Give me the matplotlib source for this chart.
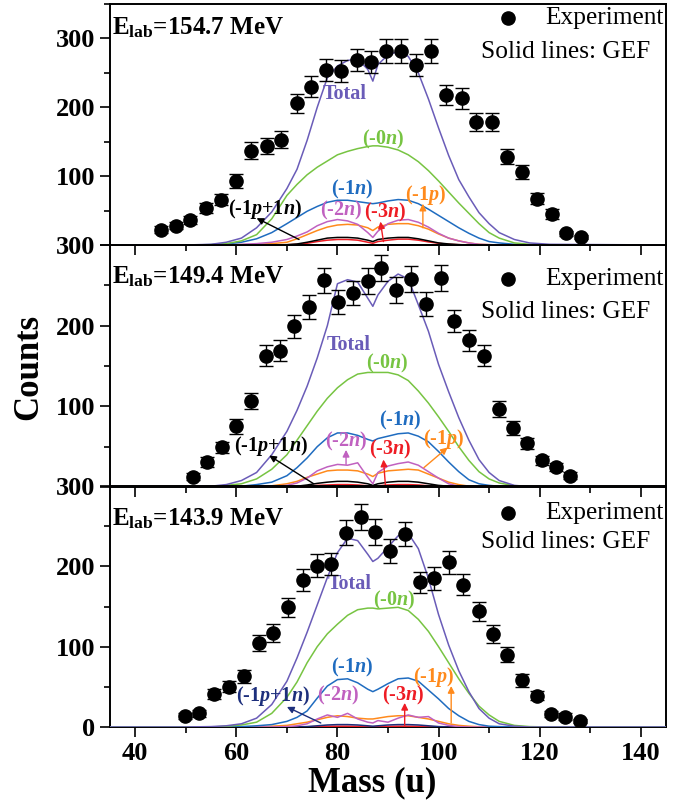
import matplotlib
matplotlib.use('Agg')
import matplotlib.pyplot as plt
from matplotlib.ticker import MultipleLocator

plt.rcParams['font.family'] = ['Liberation Serif', 'DejaVu Serif']
plt.rcParams['font.weight'] = 'bold'
plt.rcParams['mathtext.fontset'] = 'custom'
plt.rcParams['mathtext.rm'] = 'Liberation Serif:bold'
plt.rcParams['mathtext.it'] = 'Liberation Serif:bold:italic'
plt.rcParams['mathtext.bf'] = 'Liberation Serif:bold'

# ---------------- experimental data ----------------
top_m = [45.1, 48.0, 50.9, 54.0, 56.9, 60.0, 62.9, 66.0, 68.9, 71.9, 74.8, 77.8, 80.7, 83.8, 86.7,
         89.7, 92.6, 95.6, 98.5, 101.5, 104.7, 107.5, 110.5, 113.5, 116.5, 119.4, 122.4, 125.3, 128.2]
top_c = [22, 28, 36, 54, 66, 93, 137, 144, 153, 206, 230, 254, 253, 268, 266,
         282, 282, 262, 282, 218, 213, 179, 179, 128, 106, 67, 45, 17, 12]
top_e = [5, 5, 6, 7, 8, 10, 12, 12, 12, 14, 15, 16, 16, 16, 16,
         17, 17, 16, 17, 15, 15, 13, 13, 11, 10, 8, 7, 4, 3]

mid_m = [51.5, 54.2, 57.1, 60.0, 62.8, 65.8, 68.6, 71.5, 74.4, 77.3, 80.2, 83.1, 86.0, 88.7,
         91.6, 94.5, 97.5, 100.4, 103.1, 106.0, 108.9, 111.9, 114.8, 117.5, 120.4, 123.3, 126.0]
mid_c = [13, 31, 49, 75, 107, 163, 169, 199, 223, 256, 229, 240, 255, 271,
         244, 258, 227, 259, 206, 182, 163, 97, 73, 54, 33, 25, 14]
mid_e = [4, 6, 7, 9, 10, 13, 13, 14, 15, 16, 15, 15, 16, 16,
         16, 16, 15, 16, 14, 13, 13, 10, 9, 7, 6, 5, 4]

bot_m = [49.8, 52.7, 55.6, 58.5, 61.5, 64.4, 67.3, 70.2, 73.1, 76.0, 78.8, 81.7, 84.7, 87.5,
         90.4, 93.3, 96.4, 99.1, 102.0, 104.9, 108.0, 110.8, 113.5, 116.5, 119.4, 122.2, 125.1, 128.0]
bot_c = [14, 17, 41, 50, 63, 105, 117, 149, 183, 201, 203, 242, 261, 243,
         219, 240, 180, 185, 205, 177, 144, 116, 90, 58, 39, 16, 13, 7.5]
bot_e = [4, 4, 6, 7, 8, 10, 11, 12, 14, 14, 14, 16, 16, 16,
         15, 15, 13, 14, 14, 13, 12, 11, 9, 8, 6, 4, 4, 3]

# ---------------- GEF curves ----------------
gef_m = [35, 50, 55, 58, 61, 64, 67, 70, 72, 74, 76, 78, 80, 82, 84, 86, 87, 88, 90, 92, 94,
         96, 98, 100, 102, 104, 106, 108, 110, 112, 115, 118, 122, 145]

top_total = [0, 0, 1, 4, 10, 25, 48, 82, 110, 152, 200, 243, 260, 268, 270, 255, 238, 262, 276, 281, 274,
             250, 212, 170, 130, 95, 70, 47, 31, 18, 8, 3, 1, 0]
top_n0 = [0, 0, 0.5, 2, 6, 15, 38, 72, 88, 102, 113, 122, 131, 136, 140, 143, 144, 144, 142, 138, 131,
          121, 108, 93, 77, 61, 46, 31, 18, 10, 3, 1, 0, 0]
top_n1 = [0, 0, 0.5, 1.5, 4, 9, 18, 31, 40, 49, 56, 62, 65, 65, 63, 61, 60, 61, 64, 66, 65,
          60, 52, 43, 34, 25, 17, 10, 5, 3, 1, 0, 0, 0]
top_n2 = [0, 0, 0, 0.5, 1, 2, 4, 8, 13, 19, 28, 34, 37, 35, 30, 18, 11, 20, 31, 36, 37,
          33, 26, 17, 10, 6, 3, 1, 0.5, 0, 0, 0, 0, 0]
top_p1 = [0, 0, 0, 0, 0.5, 1, 2, 4, 9, 15, 21, 26, 29, 30, 29, 25, 21, 26, 30, 31, 31,
          28, 23, 16, 10, 6, 3, 1, 0.5, 0, 0, 0, 0, 0]
top_p1n1 = [0, 0, 0, 0, 0, 0, 0.2, 0.5, 1.5, 4, 7, 10, 11, 11, 10, 7, 5, 8, 10, 11, 11,
            9, 6, 3, 1.5, 0.5, 0, 0, 0, 0, 0, 0, 0, 0]
top_n3 = [0, 0, 0, 0, 0, 0, 0, 0.3, 1, 2.5, 5, 7, 8, 8, 7, 4, 2.5, 5, 7, 8.5, 8.5,
          7, 4.5, 2.5, 1, 0.5, 0, 0, 0, 0, 0, 0, 0, 0]

mid_total = [0, 0, 1, 3, 8, 18, 40, 69, 95, 125, 160, 200, 252, 257, 254, 234, 224, 238, 255, 264, 258,
             226, 193, 152, 118, 86, 58, 34, 18, 8, 2, 0.5, 0, 0]
mid_n0 = [0, 0, 0.5, 2, 4, 10, 22, 40, 58, 76, 94, 110, 123, 133, 140, 142, 142, 142, 142, 139, 132,
          119, 104, 87, 69, 50, 33, 19, 10, 5, 1.5, 0.5, 0, 0]
mid_n1 = [0, 0, 0, 0.5, 1, 3, 6, 14, 24, 36, 50, 61, 67, 67, 64, 59, 57, 60, 63, 66, 67,
          63, 56, 44, 31, 19, 9, 4, 2, 1, 0, 0, 0, 0]
mid_n2 = [0, 0, 0, 0, 0, 0.5, 1, 2, 5, 11, 20, 25, 28, 27, 30, 12, 4, 18, 26, 29, 31,
          27, 19, 11, 4, 1, 0, 0, 0, 0, 0, 0, 0, 0]
mid_p1 = [0, 0, 0, 0, 0, 0.5, 1.5, 4, 7, 12, 16, 20, 21, 21, 20, 16, 13, 17, 20, 21, 22,
          21, 16, 11, 6, 3, 1, 0.5, 0, 0, 0, 0, 0, 0]
mid_p1n1 = [0, 0, 0, 0, 0, 0, 0.2, 0.5, 1, 2.5, 4.5, 6, 7, 7, 6, 4, 2, 4, 6, 7, 7,
            6, 4, 2, 1, 0.5, 0, 0, 0, 0, 0, 0, 0, 0]
mid_n3 = [0, 0, 0, 0, 0, 0, 0, 0, 0.5, 1, 2, 2.5, 3, 3, 2.5, 1.5, 1, 1.5, 2.5, 3, 3,
          2.5, 1.5, 1, 0.5, 0, 0, 0, 0, 0, 0, 0, 0, 0]

bot_total = [0, 0, 0.5, 1.5, 4, 11, 28, 57, 86, 118, 152, 186, 217, 235, 232, 215, 206, 210, 224, 238, 241,
             222, 185, 140, 102, 70, 44, 23, 11, 4, 1, 0, 0, 0]
bot_n0 = [0, 0, 0, 1, 2.5, 6, 17, 37, 56, 80, 100, 116, 128, 139, 146, 148, 148, 147, 148, 149, 145,
          134, 119, 100, 80, 60, 42, 26, 15, 7, 2, 0.5, 0, 0]
bot_n1 = [0, 0, 0, 0, 0.5, 1.5, 3, 7, 12, 20, 36, 51, 59, 60, 55, 47, 44, 47, 54, 60, 61,
          57, 46, 35, 23, 14, 7, 3, 1, 0.5, 0, 0, 0, 0]
bot_n2 = [0, 0, 0, 0, 0, 0, 0, 0.5, 1.5, 4, 10, 15, 12, 17, 10, 6, 5, 8, 6, 11, 15,
          12, 13, 5, 2, 0.5, 0, 0, 0, 0, 0, 0, 0, 0]
bot_p1 = [0, 0, 0, 0, 0, 0.3, 1, 2, 4, 6, 9, 12, 14, 13, 11, 10, 10, 11, 13, 14, 14,
          12, 10, 7, 4, 2, 1, 0.3, 0, 0, 0, 0, 0, 0]
bot_p1n1 = [0, 0, 0, 0, 0, 0, 0, 0, 0.2, 0.5, 1.5, 2.5, 3, 3, 2.5, 1.5, 1, 1.5, 2.5, 3, 3,
            2.5, 1.5, 0.5, 0.2, 0, 0, 0, 0, 0, 0, 0, 0, 0]
bot_n3 = [0, 0, 0, 0, 0, 0, 0, 0, 0, 0.3, 0.6, 0.9, 1, 1, 0.8, 0.5, 0.3, 0.5, 0.8, 1, 1,
          0.8, 0.5, 0.3, 0, 0, 0, 0, 0, 0, 0, 0, 0, 0]

energies = ['154.7', '149.4', '143.9']
ylims = [350, 300, 300]

C_TOT = '#6a5cb8'
C_N0 = '#77c442'
C_N1 = '#1f6cc0'
C_N2 = '#c061c0'
C_N3 = '#ee1c24'
C_P1 = '#ff8a1c'

# label positions (mass, counts) and arrows ((tail), (head)) per panel
labels_top = {'Total': (81.5, 219), 'n0': (89.1, 153), 'n1': (82.9, 81), 'p1': (97.5, 73),
              'n2': (80.7, 50), 'n3': (89.5, 47), 'p1n1': (65.6, 52)}
arrows_top = [((72.4, 8), (64.0, 39), 'k'), ((89.1, 5), (88.5, 34), C_N3), ((96.9, 25), (96.9, 60), C_P1)]
labels_mid = {'Total': (82.2, 176), 'n0': (89.8, 153), 'n1': (92.4, 83), 'p1': (101.1, 60),
              'n2': (81.7, 57), 'n3': (90.5, 46), 'p1n1': (66.9, 51)}
arrows_mid = [((75.3, 4), (66.5, 39), 'k'), ((81.7, 28), (81.7, 46), C_N2), ((89.5, 1), (89.1, 34), C_N3),
              ((97.1, 24), (101.8, 49), C_P1)]
labels_bot = {'Total': (82.4, 178), 'n0': (91.3, 157), 'n1': (82.9, 74), 'p1': (99.1, 62),
              'n2': (80.2, 39), 'n3': (93.1, 39), 'p1n1': (67.3, 39)}
arrows_bot = [((76.7, 5), (70.0, 25), '#1d2f7c'), ((93.3, 1), (93.3, 30), C_N3), ((102.5, 5), (102.5, 51), C_P1)]

fig = plt.figure(figsize=(6.89, 8.05), dpi=100)
L, W = 110 / 689, 556 / 689
boxes = [(245, 241), (487, 242), (727, 241)]

panels = [
    (top_m, top_c, top_e, [top_total, top_n0, top_n1, top_n2, top_p1, top_p1n1, top_n3], labels_top, arrows_top, 'k',
     (0.900, 0.940, 0.800)),
    (mid_m, mid_c, mid_e, [mid_total, mid_n0, mid_n1, mid_n2, mid_p1, mid_p1n1, mid_n3], labels_mid, arrows_mid, 'k',
     (0.867, 0.860, 0.723)),
    (bot_m, bot_c, bot_e, [bot_total, bot_n0, bot_n1, bot_n2, bot_p1, bot_p1n1, bot_n3], labels_bot, arrows_bot, '#1d2f7c',
     (0.866, 0.888, 0.768)),
]

for i, (pm, pc, pe, curves, labs, arrs, c_p1n1, ypos) in enumerate(panels):
    yb, h = boxes[i]
    ax = fig.add_axes([L, 1 - yb / 805, W, h / 805])
    ax.patch.set_visible(False)
    tot, n0, n1, n2, p1, p1n1, n3 = curves
    lw = 1.1
    ax.plot(gef_m, n3, color=C_N3, lw=lw, zorder=3)
    ax.plot(gef_m, p1n1, color=c_p1n1, lw=lw, zorder=3)
    ax.plot(gef_m, p1, color=C_P1, lw=lw, zorder=3)
    ax.plot(gef_m, n2, color=C_N2, lw=lw, zorder=3)
    ax.plot(gef_m, n1, color=C_N1, lw=lw, zorder=3)
    ax.plot(gef_m, n0, color=C_N0, lw=lw, zorder=3)
    ax.plot(gef_m, tot, color=C_TOT, lw=lw, zorder=3)
    ax.errorbar(pm, pc, yerr=pe, fmt='o', color='k', ms=9.5, elinewidth=1.0, capsize=4.7, capthick=1.0, zorder=5)

    ax.set_xlim(35, 145)
    ax.set_ylim(0, ylims[i])
    ax.xaxis.set_major_locator(MultipleLocator(20))
    ax.xaxis.set_minor_locator(MultipleLocator(10))
    ax.set_yticks([0, 100, 200, 300])
    ax.yaxis.set_minor_locator(MultipleLocator(50))
    ax.tick_params(axis='both', which='major', direction='out', length=7, width=1.2, labelsize=19)
    ax.tick_params(axis='both', which='minor', direction='out', length=4, width=1.2)
    ax.tick_params(top=False, right=False, which='both')
    for s in ax.spines.values():
        s.set_linewidth(1.4)
    if i < 2:
        ax.tick_params(axis='x', labelbottom=False)
        ax.set_yticklabels(['', '100', '200', '300'])

    ey, my, sy = ypos
    ax.text(0.003, ey, r'E$_{\mathrm{lab}}$=' + energies[i] + ' MeV', transform=ax.transAxes,
            fontsize=18, fontweight='bold', ha='left', va='center')
    ax.plot([0.716], [my], 'o', color='k', ms=9.5, transform=ax.transAxes, clip_on=False)
    ax.text(0.782, my, 'Experiment', transform=ax.transAxes, fontsize=18.3, fontweight='normal',
            ha='left', va='center')
    ax.text(0.667, sy, 'Solid lines: GEF', transform=ax.transAxes, fontsize=18.3, fontweight='normal',
            ha='left', va='center')

    fs = 14.5
    ax.text(*labs['Total'], 'Total', color=C_TOT, fontsize=fs, ha='center', va='center')
    ax.text(*labs['n0'], r'(-0$\mathit{n}$)', color=C_N0, fontsize=fs, ha='center', va='center')
    ax.text(*labs['n1'], r'(-1$\mathit{n}$)', color=C_N1, fontsize=fs, ha='center', va='center')
    ax.text(*labs['p1'], r'(-1$\mathit{p}$)', color=C_P1, fontsize=fs, ha='center', va='center')
    ax.text(*labs['n2'], r'(-2$\mathit{n}$)', color=C_N2, fontsize=fs, ha='center', va='center')
    ax.text(*labs['n3'], r'(-3$\mathit{n}$)', color=C_N3, fontsize=fs, ha='center', va='center')
    ax.text(*labs['p1n1'], r'(-1$\mathit{p}$+1$\mathit{n}$)', color=c_p1n1, fontsize=fs, ha='center', va='center')
    for tail, head, col in arrs:
        ax.annotate('', xy=head, xytext=tail,
                    arrowprops=dict(arrowstyle='-|>', color=col, lw=1.0, mutation_scale=10, shrinkA=0, shrinkB=0))

fig.text(29 / 689, 1 - 367 / 805, 'Counts', rotation=90, fontsize=25, fontweight='bold', ha='center', va='center')
fig.text(372 / 689, 1 - 783 / 805, 'Mass (u)', fontsize=25, fontweight='bold', ha='center', va='center')

fig.savefig('out.png', dpi=100)
